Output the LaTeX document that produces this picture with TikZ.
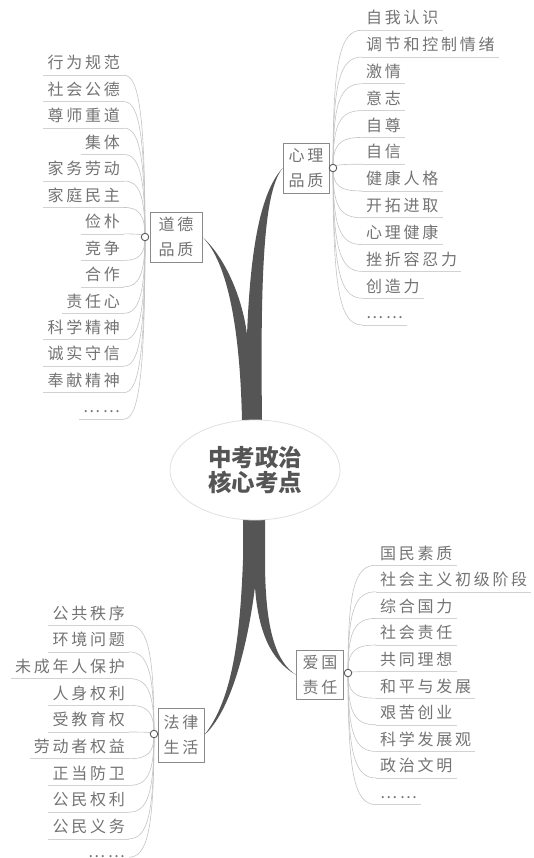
\documentclass[tikz,border=0pt]{standalone}
\usepackage{fontspec}
\usetikzlibrary{calc,backgrounds,shapes.geometric}
\newfontfamily\cjk{Noto Sans CJK SC}[LetterSpace=17]
\newfontfamily\cjktitle{Noto Sans CJK SC}
\definecolor{itemgray}{HTML}{737373}
\definecolor{linegray}{HTML}{D2D2D2}
\definecolor{twiggray}{HTML}{C4C4C4}
\definecolor{trunkgray}{HTML}{555555}
\definecolor{boxgray}{HTML}{8A8A8A}
\definecolor{titlegray}{HTML}{555555}
\tikzset{
  itemtext/.style={font=\cjk\fontsize{16}{16}\selectfont, text=itemgray, inner xsep=4pt, inner ysep=0pt, text height=12pt, text depth=6pt},
  itemL/.style={itemtext, anchor=base east},
  itemR/.style={itemtext, anchor=base west},
  uline/.style={draw=linegray, line width=0.6pt},
  twig/.style={draw=twiggray, line width=0.6pt},
  catbox/.style={draw=boxgray, line width=0.7pt, font=\cjk\fontsize{16}{25}\selectfont, text=itemgray, align=center, inner sep=0pt, minimum height=50pt},
  knot/.style={circle, draw=black!65, fill=white, line width=0.9pt, inner sep=0pt, minimum size=7.5pt},
  trunk/.style={fill=trunkgray},
  core/.style={ellipse, draw=black!12, line width=0.8pt, fill=white, minimum width=170pt, minimum height=100pt, align=center, font=\cjktitle\bfseries\fontsize{23.5}{25}\selectfont, text=titlegray, inner sep=0pt}
}
\begin{document}
\begin{tikzpicture}[x=1pt,y=-1pt]
\useasboundingbox (0,0) rectangle (534,858);

% category boxes
\node[catbox, minimum width=52pt] (dd) at (176,237) {道德\\品质};
\node[catbox, minimum width=46pt] (xl) at (306,168) {心理\\品质};
\node[catbox, minimum width=46pt, minimum height=54pt] (fl) at (181,735) {法律\\生活};
\node[catbox, minimum width=47pt, minimum height=49pt] (ag) at (320,675) {爱国\\责任};

% knots
\node[knot] (ddc) at (145,237) {};
\node[knot] (xlc) at (333,168) {};
\node[knot] (flc) at (154,734) {};
\node[knot] (agc) at (348,673) {};

% core
\node[core] (core) at (255,470) {中考政治\\核心考点};

% items
\foreach \t [count=\i from 0] in {行为规范,社会公德,尊师重道,集体,家务劳动,家庭民主,俭朴,竞争,合作,责任心,科学精神,诚实守信,奉献精神,……}{
  \node[itemL] (dd\i) at (124,{63+26.45*\i+6}) {\t};
  \draw[uline] (dd\i.south west) -- (dd\i.south east);
  \begin{pgfonlayer}{background}
  \draw[twig] (ddc.center) .. controls ($(ddc.center)!0.75!(ddc.center |- dd\i.south east)$) and ($(ddc.center |- dd\i.south east)+(-6,0)$) .. (dd\i.south east);
  \end{pgfonlayer}
}
\foreach \t [count=\i from 0] in {自我认识,调节和控制情绪,激情,意志,自尊,自信,健康人格,开拓进取,心理健康,挫折容忍力,创造力,……}{
  \node[itemR] (xl\i) at (362,{18+26.8*\i+6}) {\t};
  \draw[uline] (xl\i.south west) -- (xl\i.south east);
  \begin{pgfonlayer}{background}
  \draw[twig] (xlc.center) .. controls ($(xlc.center)!0.75!(xlc.center |- xl\i.south west)$) and ($(xlc.center |- xl\i.south west)+(6,0)$) .. (xl\i.south west);
  \end{pgfonlayer}
}
\foreach \t [count=\i from 0] in {公共秩序,环境问题,未成年人保护,人身权利,受教育权,劳动者权益,正当防卫,公民权利,公民义务}{
  \node[itemL] (fl\i) at (129,{613+26.7*\i+6}) {\t};
  \draw[uline] (fl\i.south west) -- (fl\i.south east);
  \begin{pgfonlayer}{background}
  \draw[twig] (flc.center) .. controls ($(flc.center)!0.75!(flc.center |- fl\i.south east)$) and ($(flc.center |- fl\i.south east)+(-6,0)$) .. (fl\i.south east);
  \end{pgfonlayer}
}
\node[itemL, text depth=0pt, text height=8pt] (fl9) at (129,857) {……};
\begin{pgfonlayer}{background}
\draw[twig] (flc.center) .. controls ($(flc.center)!0.75!(flc.center |- fl9.south east)$) and ($(flc.center |- fl9.south east)+(-6,0)$) .. (fl9.south east);
\end{pgfonlayer}
\foreach \t [count=\i from 0] in {国民素质,社会主义初级阶段,综合国力,社会责任,共同理想,和平与发展,艰苦创业,科学发展观,政治文明,……}{
  \node[itemR] (ag\i) at (376,{553+26.6*\i+6}) {\t};
  \draw[uline] (ag\i.south west) -- (ag\i.south east);
  \begin{pgfonlayer}{background}
  \draw[twig] (agc.center) .. controls ($(agc.center)!0.75!(agc.center |- ag\i.south west)$) and ($(agc.center |- ag\i.south west)+(6,0)$) .. (ag\i.south west);
  \end{pgfonlayer}
}

% trunks
\begin{pgfonlayer}{background}
\fill[trunk] (242,470) -- (242,420) .. controls (240,330) and (228,262) .. (dd.east)
  .. controls (226,258) and (243,300) .. (247,335)
  .. controls (250,260) and (258,195) .. (xl.west)
  .. controls (265,190) and (260,260) .. (262,420) -- (262,470) -- cycle;
\fill[trunk] (243,470) -- (243,560) .. controls (240,640) and (232,700) .. (fl.east)
  .. controls (230,712) and (247,650) .. (255,587)
  .. controls (258,630) and (270,660) .. (ag.west)
  .. controls (276,662) and (265,630) .. (265,560) -- (265,470) -- cycle;
\end{pgfonlayer}
\end{tikzpicture}
\end{document}
